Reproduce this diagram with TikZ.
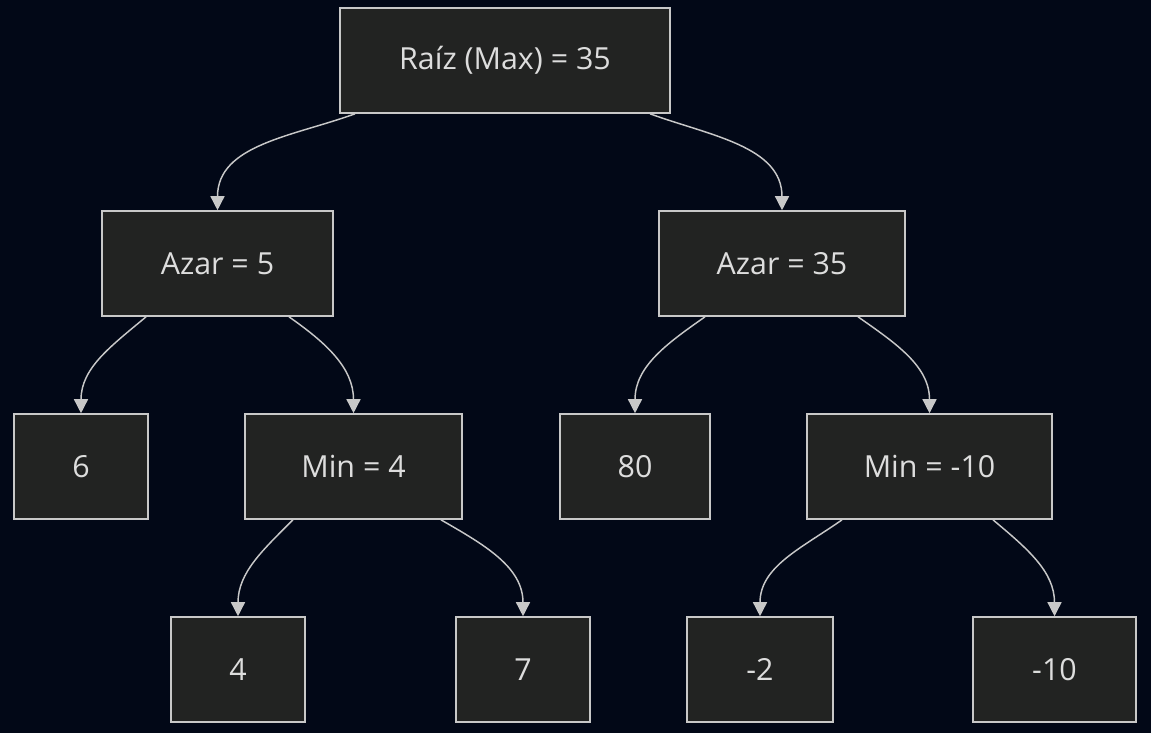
\documentclass[tikz,border=0pt]{standalone}
\usepackage{fontspec}
\setmainfont{Open Sans}
\usetikzlibrary{arrows.meta}

\definecolor{bgnavy}{HTML}{020817}
\definecolor{boxfill}{HTML}{222322}
\definecolor{boxline}{HTML}{C8C8C8}
\definecolor{labeltext}{HTML}{DDDDDD}

\begin{document}
\begin{tikzpicture}[x=0.75pt,y=-0.75pt,
    treebox/.style={draw=boxline,fill=boxfill,line width=1.2pt,text=labeltext,
      minimum height=78.75pt,inner sep=0pt,font=\fontsize{22.8}{27}\selectfont},
    link/.style={draw=boxline,line width=1.1pt,-{Triangle[length=10.5pt,width=10.5pt]}}]
    \fill[bgnavy] (0,0) rectangle (1151,733);
    \useasboundingbox (0,0) rectangle (1151,733);

    % levels of the tree
    \node[treebox,minimum width=247.5pt] (root) at (505,60.5) {Raíz (Max) = 35};
    \node[treebox,minimum width=173.25pt] (azarL) at (217.5,263.5) {Azar = 5};
    \node[treebox,minimum width=184.5pt] (azarR) at (782,263.5) {Azar = 35};
    \node[treebox,minimum width=100.5pt] (leafA) at (81,466.5) {6};
    \node[treebox,minimum width=162.75pt] (minL) at (353.5,466.5) {Min = 4};
    \node[treebox,minimum width=112.5pt] (leafB) at (635,466.5) {80};
    \node[treebox,minimum width=183.75pt] (minR) at (929.5,466.5) {Min = -10};
    \node[treebox,minimum width=100.5pt] (leafC) at (238,669.5) {4};
    \node[treebox,minimum width=100.5pt] (leafD) at (523,669.5) {7};
    \node[treebox,minimum width=109.5pt] (leafE) at (760,669.5) {-2};
    \node[treebox,minimum width=122.25pt] (leafF) at (1054.5,669.5) {-10};

    % connectors
    \path[link] ([xshift=-112.5pt]root.south) to[out=-160,in=90] (azarL.north);
    \path[link] ([xshift=108.75pt]root.south) to[out=-20,in=90] (azarR.north);
    \path[link] ([xshift=-53.6pt]azarL.south) to[out=-140,in=90] (leafA.north);
    \path[link] ([xshift=53.6pt]azarL.south) to[out=-35,in=90] (minL.north);
    \path[link] ([xshift=-57.75pt]azarR.south) to[out=-145,in=90] (leafB.north);
    \path[link] ([xshift=57pt]azarR.south) to[out=-35,in=90] (minR.north);
    \path[link] ([xshift=-45.4pt]minL.south) to[out=-135,in=90] (leafC.north);
    \path[link] ([xshift=65.6pt]minL.south) to[out=-30,in=90] (leafD.north);
    \path[link] ([xshift=-65.6pt]minR.south) to[out=-145,in=90] (leafE.north);
    \path[link] ([xshift=47.6pt]minR.south) to[out=-40,in=90] (leafF.north);
\end{tikzpicture}
\end{document}
